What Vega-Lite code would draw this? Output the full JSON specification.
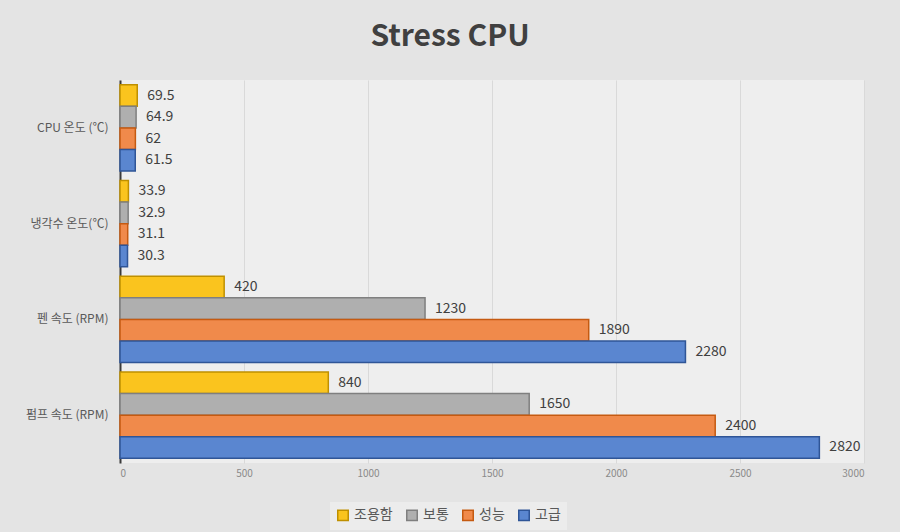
{
  "$schema": "https://vega.github.io/schema/vega-lite/v6.json",
  "description": "Stress CPU: temperatures and fan/pump speeds per profile.",
  "autosize": {"type": "none"},
  "width": 744,
  "height": 383,
  "padding": {"left": 120, "top": 80, "right": 36, "bottom": 69},
  "background": "#e4e4e4",
  "title": {
    "text": "Stress CPU",
    "fontSize": 30,
    "fontWeight": "bold",
    "font": "Noto Sans CJK KR",
    "color": "#404040",
    "anchor": "middle",
    "dx": -42,
    "offset": 28
  },
  "data": {
    "values": [
      {"항목": "CPU 온도 (℃)", "모드": "조용함", "값": 69.5},
      {"항목": "CPU 온도 (℃)", "모드": "보통", "값": 64.9},
      {"항목": "CPU 온도 (℃)", "모드": "성능", "값": 62},
      {"항목": "CPU 온도 (℃)", "모드": "고급", "값": 61.5},
      {"항목": "냉각수 온도(℃)", "모드": "조용함", "값": 33.9},
      {"항목": "냉각수 온도(℃)", "모드": "보통", "값": 32.9},
      {"항목": "냉각수 온도(℃)", "모드": "성능", "값": 31.1},
      {"항목": "냉각수 온도(℃)", "모드": "고급", "값": 30.3},
      {"항목": "펜 속도 (RPM)", "모드": "조용함", "값": 420},
      {"항목": "펜 속도 (RPM)", "모드": "보통", "값": 1230},
      {"항목": "펜 속도 (RPM)", "모드": "성능", "값": 1890},
      {"항목": "펜 속도 (RPM)", "모드": "고급", "값": 2280},
      {"항목": "펌프 속도 (RPM)", "모드": "조용함", "값": 840},
      {"항목": "펌프 속도 (RPM)", "모드": "보통", "값": 1650},
      {"항목": "펌프 속도 (RPM)", "모드": "성능", "값": 2400},
      {"항목": "펌프 속도 (RPM)", "모드": "고급", "값": 2820}
    ]
  },
  "encoding": {
    "y": {
      "field": "항목",
      "type": "nominal",
      "sort": ["CPU 온도 (℃)", "냉각수 온도(℃)", "펜 속도 (RPM)", "펌프 속도 (RPM)"],
      "scale": {"paddingInner": 0.1, "paddingOuter": 0.05},
      "axis": {
        "title": null,
        "ticks": false,
        "domainColor": "#3a3a3a",
        "domainWidth": 2,
        "labelFont": "Noto Sans CJK KR",
        "labelFontSize": 12,
        "labelColor": "#595959",
        "labelPadding": 12
      }
    },
    "yOffset": {
      "field": "모드",
      "type": "nominal",
      "sort": ["조용함", "보통", "성능", "고급"],
      "scale": {"paddingInner": 0, "paddingOuter": 0}
    },
    "x": {
      "field": "값",
      "type": "quantitative",
      "scale": {"domain": [0, 3000], "nice": false},
      "axis": {
        "title": null,
        "values": [0, 500, 1000, 1500, 2000, 2500, 3000],
        "format": "d",
        "ticks": false,
        "domain": false,
        "grid": true,
        "gridColor": "#d9d9d9",
        "labelFont": "Noto Sans CJK KR",
        "labelFontSize": 10,
        "labelColor": "#8a8a8a",
        "labelPadding": 5
      }
    }
  },
  "layer": [
    {
      "mark": {"type": "bar", "strokeWidth": 1.5},
      "encoding": {
        "fill": {
          "field": "모드",
          "type": "nominal",
          "scale": {
            "domain": ["조용함", "보통", "성능", "고급"],
            "range": ["#FAC41E", "#AFAFAF", "#F08A4B", "#5A86D0"]
          },
          "legend": {
            "title": null,
            "orient": "none",
            "direction": "horizontal",
            "legendX": 210,
            "legendY": 422,
            "fillColor": "#ececec",
            "padding": 6,
            "symbolType": "square",
            "symbolSize": 110,
            "labelFont": "Noto Sans CJK KR",
            "labelFontSize": 14,
            "labelColor": "#595959",
            "columnPadding": 10
          }
        },
        "stroke": {
          "field": "모드",
          "type": "nominal",
          "scale": {
            "domain": ["조용함", "보통", "성능", "고급"],
            "range": ["#BF9000", "#7F7F7F", "#C55A11", "#2F5597"]
          },
          "legend": {
            "title": null,
            "orient": "none",
            "direction": "horizontal",
            "legendX": 210,
            "legendY": 422,
            "fillColor": "#ececec",
            "padding": 6,
            "symbolType": "square",
            "symbolSize": 110,
            "labelFont": "Noto Sans CJK KR",
            "labelFontSize": 14,
            "labelColor": "#595959",
            "columnPadding": 10
          }
        }
      }
    },
    {
      "mark": {
        "type": "text",
        "align": "left",
        "baseline": "middle",
        "dx": 10,
        "font": "Noto Sans CJK KR",
        "fontSize": 14,
        "color": "#404040"
      },
      "encoding": {
        "text": {"field": "값", "type": "quantitative"}
      }
    }
  ],
  "config": {
    "view": {"fill": "#eeeeee", "stroke": null}
  }
}
